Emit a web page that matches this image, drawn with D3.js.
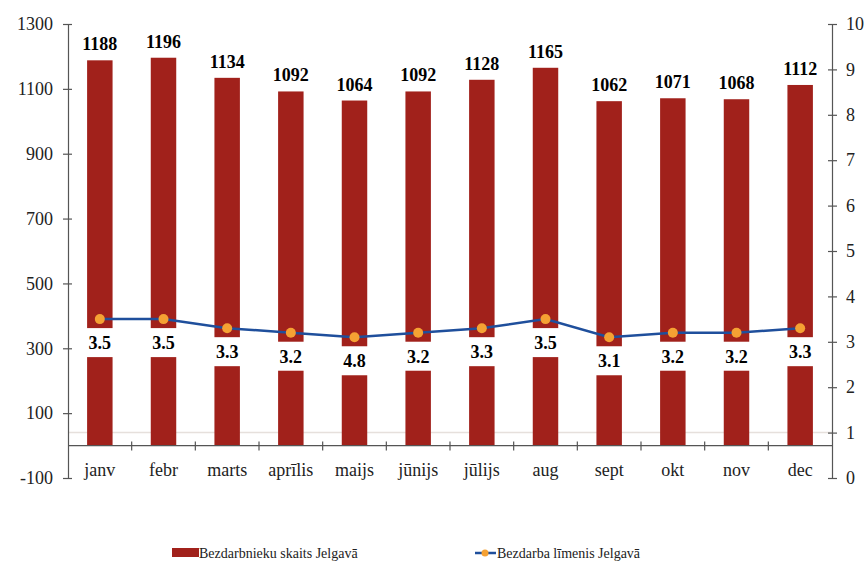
<!DOCTYPE html>
<html>
<head>
<meta charset="utf-8">
<script src="https://cdn.jsdelivr.net/npm/d3@7/dist/d3.min.js"></script>
<style>
  body { margin: 0; background: #fff; }
</style>
</head>
<body>
<div id="chart"></div>
<script>
// data
const months = ['janv', 'febr', 'marts', 'aprīlis', 'maijs', 'jūnijs', 'jūlijs', 'aug', 'sept', 'okt', 'nov', 'dec'];
const counts = [1188, 1196, 1134, 1092, 1064, 1092, 1128, 1165, 1062, 1071, 1068, 1112];
const rates = [3.5, 3.5, 3.3, 3.2, 3.1, 3.2, 3.3, 3.5, 3.1, 3.2, 3.2, 3.3];
const rateLabels = ['3.5', '3.5', '3.3', '3.2', '4.8', '3.2', '3.3', '3.5', '3.1', '3.2', '3.2', '3.3'];
const leftTicks = [-100, 100, 300, 500, 700, 900, 1100, 1300];
const rightTicks = [0, 1, 2, 3, 4, 5, 6, 7, 8, 9, 10];

const barColor = '#a1211b';
const lineColor = '#1f4f9c';
const dotColor = '#f5a133';
const serif = '"Liberation Serif", serif';

const width = 868, height = 565;
const margin = {left: 68, right: 36, top: 24, bottom: 87};
const plotW = width - margin.left - margin.right;
const plotH = height - margin.top - margin.bottom;

const svg = d3.select('#chart').append('svg')
  .attr('width', width)
  .attr('height', height);

const g = svg.append('g')
  .attr('transform', 'translate(' + margin.left + ',' + margin.top + ')');

const x = d3.scaleBand()
  .domain(months)
  .range([0, plotW])
  .paddingInner(0.6)
  .paddingOuter(0.3);

const y = d3.scaleLinear()
  .domain([-100, 1300])
  .range([plotH, 0]);

const y2 = d3.scaleLinear()
  .domain([0, 10])
  .range([plotH, 0]);

// faint line at 1 on the right axis
g.append('line')
  .attr('x1', 0).attr('x2', plotW)
  .attr('y1', y2(1)).attr('y2', y2(1))
  .attr('stroke', '#e6e0dc')
  .attr('stroke-width', 1.5);

// bars
g.selectAll('.bar')
  .data(counts)
  .enter()
  .append('rect')
    .attr('class', 'bar')
    .attr('x', (d, i) => x(months[i]))
    .attr('y', d => y(d))
    .attr('width', x.bandwidth())
    .attr('height', d => y(0) - y(d))
    .attr('fill', barColor);

// value labels above bars
g.selectAll('.count-label')
  .data(counts)
  .enter()
  .append('text')
    .attr('class', 'count-label')
    .attr('x', (d, i) => x(months[i]) + x.bandwidth() / 2)
    .attr('y', d => y(d) - 10)
    .attr('text-anchor', 'middle')
    .style('font-size', '18px')
    .style('font-weight', 'bold')
    .text(d => d);

// white boxes behind rate labels
g.selectAll('.rate-box')
  .data(rates)
  .enter()
  .append('rect')
    .attr('class', 'rate-box')
    .attr('x', (d, i) => x(months[i]) - 4)
    .attr('y', d => y2(d) + 9)
    .attr('width', x.bandwidth() + 8)
    .attr('height', 29)
    .attr('fill', '#fff');

g.selectAll('.rate-label')
  .data(rates)
  .enter()
  .append('text')
    .attr('class', 'rate-label')
    .attr('x', (d, i) => x(months[i]) + x.bandwidth() / 2)
    .attr('y', d => y2(d) + 30)
    .attr('text-anchor', 'middle')
    .style('font-size', '18px')
    .style('font-weight', 'bold')
    .text((d, i) => rateLabels[i]);

// x axis line at 0
g.append('line')
  .attr('x1', 0).attr('x2', plotW)
  .attr('y1', y(0)).attr('y2', y(0))
  .attr('stroke', '#555')
  .attr('stroke-width', 1.2);

// x ticks at band boundaries
const step = x.step();
const bounds = d3.range(1, months.length).map(i => x(months[i]) - step * x.paddingInner() / 2);
g.selectAll('.xtick')
  .data(bounds)
  .enter()
  .append('line')
    .attr('x1', d => d).attr('x2', d => d)
    .attr('y1', y(0) - 4).attr('y2', y(0) + 5)
    .attr('stroke', '#555')
    .attr('stroke-width', 1.2);

g.selectAll('.month')
  .data(months)
  .enter()
  .append('text')
    .attr('x', d => x(d) + x.bandwidth() / 2)
    .attr('y', y(0) + 30)
    .attr('text-anchor', 'middle')
    .style('font-size', '18px')
    .attr('fill', '#222')
    .text(d => d);

// line + dots
const line = d3.line()
  .x((d, i) => x(months[i]) + x.bandwidth() / 2)
  .y(d => y2(d));

g.append('path')
  .datum(rates)
  .attr('d', line)
  .attr('fill', 'none')
  .attr('stroke', lineColor)
  .attr('stroke-width', 2.5);

g.selectAll('.dot')
  .data(rates)
  .enter()
  .append('circle')
    .attr('cx', (d, i) => x(months[i]) + x.bandwidth() / 2)
    .attr('cy', d => y2(d))
    .attr('r', 5)
    .attr('fill', dotColor);

// left axis
const leftAxis = g.append('g')
  .call(d3.axisLeft(y).tickValues(leftTicks).tickFormat(d => String(d)).tickSize(0).tickPadding(15));
leftAxis.select('.domain').attr('stroke', '#555').attr('stroke-width', 1.2);
leftAxis.selectAll('.tick text').attr('fill', '#222').style('font-size', '18px');
leftAxis.selectAll('.tick').append('line')
  .attr('x1', -5).attr('x2', 4)
  .attr('stroke', '#555').attr('stroke-width', 1.2);

// right axis
const rightAxis = g.append('g')
  .attr('transform', 'translate(' + plotW + ',0)')
  .call(d3.axisRight(y2).tickValues(rightTicks).tickFormat(d => String(d)).tickSize(0).tickPadding(14));
rightAxis.select('.domain').attr('stroke', '#555').attr('stroke-width', 1.2);
rightAxis.selectAll('.tick text').attr('fill', '#222').style('font-size', '18px');
rightAxis.selectAll('.tick').append('line')
  .attr('x1', -4).attr('x2', 5)
  .attr('stroke', '#555').attr('stroke-width', 1.2);

// legend
const legend = svg.append('g');
legend.append('rect')
  .attr('x', 172).attr('y', 548)
  .attr('width', 27).attr('height', 9)
  .attr('fill', barColor);
legend.append('text')
  .attr('x', 199).attr('y', 558)
  .attr('fill', '#222')
  .style('font-size', '14px')
  .text('Bezdarbnieku skaits Jelgavā');

legend.append('line')
  .attr('x1', 475).attr('x2', 496)
  .attr('y1', 553).attr('y2', 553)
  .attr('stroke', lineColor).attr('stroke-width', 2.5);
legend.append('circle')
  .attr('cx', 485).attr('cy', 553).attr('r', 3.5)
  .attr('fill', dotColor);
legend.append('text')
  .attr('x', 497).attr('y', 558)
  .attr('fill', '#222')
  .style('font-size', '14px')
  .text('Bezdarba līmenis Jelgavā');

// serif everywhere
svg.selectAll('text').style('font-family', serif);
</script>
</body>
</html>
